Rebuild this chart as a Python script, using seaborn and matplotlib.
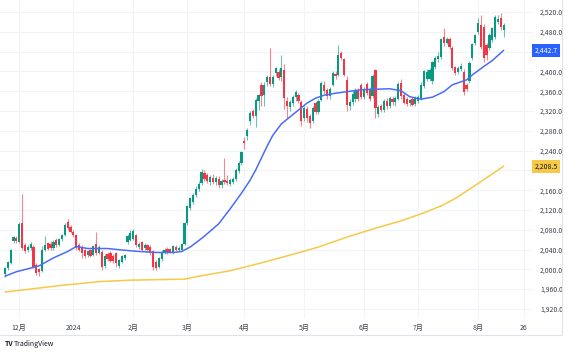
import numpy as np
import pandas as pd
import seaborn as sns
import matplotlib.pyplot as plt
from matplotlib.lines import Line2D

# daily candles (bar index 0 = late Nov 2023)
opens = [1990, 2002, 2013, 2058, 2064, 2056, 2093, 2049, 2038, 2043, 2046, 2009, 2000, 1997, 2040, 2053,
         2052, 2043, 2059, 2050, 2061, 2070, 2096, 2086, 2076, 2069, 2049, 2046, 2039, 2029, 2039, 2029,
         2052, 2033, 2035, 2006, 2031, 2033, 2027, 2032, 2006, 2015, 2022, 2056, 2060, 2062, 2069, 2045,
         2055, 2043, 2049, 2046, 2036, 2015, 2005, 2020, 2033, 2042, 2041, 2034, 2046, 2039, 2040, 2052,
         2093, 2124, 2136, 2150, 2163, 2175, 2195, 2190, 2176, 2184, 2176, 2183, 2170, 2180, 2178, 2172,
         2176, 2182, 2198, 2214, 2259, 2270, 2300, 2320, 2310, 2340, 2373, 2352, 2379, 2389, 2374, 2396,
         2399, 2388, 2403, 2340, 2329, 2336, 2348, 2352, 2339, 2306, 2325, 2310, 2300, 2336, 2318, 2342,
         2372, 2362, 2350, 2373, 2395, 2393, 2437, 2425, 2383, 2330, 2338, 2345, 2362, 2372, 2349, 2375,
         2365, 2350, 2402, 2315, 2330, 2322, 2340, 2330, 2345, 2338, 2345, 2376, 2352, 2345, 2336, 2345,
         2334, 2340, 2345, 2370, 2385, 2385, 2380, 2410, 2425, 2430, 2470, 2458, 2466, 2447, 2409, 2398,
         2405, 2399, 2372, 2380, 2428, 2457, 2480, 2494, 2490, 2453, 2447, 2463, 2469, 2500, 2508, 2484]
highs = [2004, 2016, 2042, 2068, 2067, 2096, 2152, 2053, 2050, 2056, 2049, 2012, 2003, 2048, 2068, 2056,
         2057, 2060, 2063, 2064, 2071, 2094, 2101, 2089, 2079, 2072, 2053, 2049, 2042, 2039, 2042, 2050,
         2075, 2050, 2038, 2030, 2035, 2037, 2031, 2035, 2021, 2029, 2031, 2072, 2079, 2082, 2072, 2055,
         2058, 2053, 2052, 2049, 2039, 2018, 2025, 2038, 2043, 2046, 2044, 2050, 2049, 2047, 2054, 2096,
         2130, 2147, 2155, 2168, 2178, 2203, 2200, 2194, 2190, 2192, 2189, 2188, 2183, 2225, 2190, 2184,
         2186, 2205, 2218, 2240, 2268, 2285, 2320, 2325, 2346, 2355, 2378, 2378, 2392, 2447, 2392, 2410,
         2404, 2433, 2416, 2348, 2342, 2352, 2362, 2356, 2343, 2330, 2330, 2314, 2330, 2340, 2344, 2380,
         2380, 2366, 2368, 2400, 2400, 2453, 2442, 2428, 2390, 2345, 2360, 2366, 2366, 2376, 2368, 2379,
         2369, 2394, 2405, 2332, 2335, 2345, 2346, 2350, 2350, 2350, 2378, 2385, 2356, 2348, 2345, 2349,
         2350, 2352, 2378, 2403, 2405, 2408, 2422, 2432, 2440, 2468, 2488, 2470, 2470, 2452, 2412, 2412,
         2418, 2404, 2376, 2421, 2458, 2476, 2508, 2514, 2495, 2458, 2478, 2490, 2515, 2514, 2518, 2498]
lows = [1985, 1998, 2010, 2054, 2053, 2054, 2040, 2032, 2034, 2040, 2002, 1988, 1987, 1994, 2036, 2038,
        2039, 2040, 2046, 2047, 2058, 2068, 2080, 2073, 2066, 2040, 2036, 2023, 2022, 2025, 2024, 2026,
        2028, 2030, 1999, 2002, 2017, 2014, 2013, 2004, 2003, 2012, 2019, 2052, 2057, 2059, 2046, 2041,
        2037, 2040, 2035, 2029, 1998, 1999, 2002, 2017, 2030, 2031, 2032, 2031, 2037, 2036, 2038, 2050,
        2090, 2120, 2132, 2146, 2158, 2170, 2178, 2174, 2170, 2172, 2170, 2165, 2164, 2172, 2170, 2168,
        2172, 2178, 2194, 2210, 2243, 2262, 2292, 2305, 2288, 2322, 2330, 2330, 2370, 2370, 2368, 2390,
        2382, 2380, 2325, 2306, 2320, 2330, 2340, 2337, 2290, 2300, 2298, 2285, 2296, 2315, 2314, 2340,
        2355, 2345, 2345, 2370, 2385, 2390, 2424, 2390, 2320, 2323, 2332, 2338, 2340, 2345, 2344, 2352,
        2340, 2346, 2306, 2308, 2318, 2318, 2325, 2327, 2333, 2330, 2342, 2345, 2334, 2330, 2330, 2330,
        2330, 2336, 2342, 2366, 2380, 2380, 2375, 2405, 2420, 2426, 2452, 2455, 2445, 2402, 2392, 2394,
        2400, 2352, 2360, 2376, 2424, 2454, 2476, 2445, 2420, 2423, 2443, 2460, 2465, 2495, 2484, 2470]
closes = [2002, 2014, 2039, 2065, 2057, 2091, 2043, 2036, 2046, 2051, 2005, 1992, 1994, 2040, 2049, 2041,
          2043, 2056, 2049, 2061, 2069, 2090, 2084, 2076, 2069, 2043, 2040, 2032, 2026, 2036, 2027, 2047,
          2032, 2046, 2005, 2026, 2020, 2017, 2016, 2013, 2018, 2026, 2029, 2068, 2074, 2078, 2049, 2052,
          2040, 2050, 2038, 2032, 2005, 2002, 2022, 2035, 2040, 2034, 2035, 2047, 2040, 2043, 2052, 2093,
          2127, 2144, 2150, 2163, 2172, 2196, 2182, 2178, 2186, 2176, 2185, 2170, 2178, 2176, 2174, 2181,
          2183, 2200, 2214, 2237, 2255, 2282, 2316, 2309, 2343, 2352, 2350, 2372, 2388, 2374, 2388, 2406,
          2387, 2408, 2346, 2330, 2339, 2348, 2358, 2341, 2300, 2326, 2305, 2296, 2326, 2318, 2340, 2376,
          2360, 2350, 2365, 2397, 2390, 2433, 2427, 2393, 2332, 2338, 2355, 2362, 2345, 2349, 2365, 2356,
          2345, 2390, 2326, 2328, 2322, 2340, 2330, 2346, 2338, 2346, 2374, 2350, 2337, 2334, 2342, 2333,
          2346, 2348, 2373, 2400, 2398, 2402, 2419, 2428, 2432, 2465, 2457, 2466, 2450, 2407, 2397, 2408,
          2412, 2358, 2364, 2418, 2455, 2474, 2498, 2450, 2428, 2433, 2474, 2488, 2510, 2506, 2490, 2494]

# moving averages, read at a few bars
ma_short_idx = [0, 4, 10, 12, 17, 22, 25, 29, 36, 41, 47, 53, 59, 62, 65, 68, 70, 75, 79, 83, 86, 88,
                90, 92, 94, 97, 100, 103, 106, 109, 112, 116, 125, 135, 139, 142, 146, 150, 154, 157,
                162, 164, 168, 171, 175]
ma_short_val = [1986, 1995, 2004, 2007, 2023, 2036, 2046, 2042, 2042, 2039, 2036, 2034, 2034, 2036, 2045,
                2058, 2067, 2092, 2122, 2154, 2180, 2201, 2225, 2249, 2271, 2294, 2308, 2322, 2336, 2346,
                2352, 2356, 2363, 2365, 2361, 2349, 2344, 2348, 2359, 2373, 2383, 2393, 2410, 2422, 2442.7]
ma_long_idx = [0, 9, 19, 33, 44, 63, 68, 79, 90, 104, 110, 121, 130, 139, 146, 153, 158, 163, 168, 175]
ma_long_val = [1954, 1960, 1967, 1975, 1978, 1980, 1986, 1997, 2013, 2035, 2045, 2067, 2083, 2098, 2112,
               2128, 2143, 2162, 2181, 2208.5]

month_ticks = [5, 24, 45, 64, 84, 105, 126, 145, 166, 182]
month_labels = ['12月', '2024', '2月', '3月', '4月', '5月', '6月', '7月', '8月', '26']
price_ticks = list(range(1920, 2521, 40))

df = pd.DataFrame({'o': opens, 'h': highs, 'l': lows, 'c': closes})
df['i'] = np.arange(len(df))
up = df['c'] >= df['o']
UP, DOWN = '#089981', '#f23645'
colors = np.where(up, UP, DOWN)

sns.set_style('white')
plt.rcParams['font.family'] = ['Noto Sans CJK JP', 'DejaVu Sans']
TXT = '#3b3f4a'

W, H = 573, 352
fig = plt.figure(figsize=(W / 100, H / 100), dpi=100)
ax = fig.add_axes([0, 1 - 318 / H, 533 / W, 318 / H])

# candles
ax.vlines(df['i'], df['l'], df['h'], colors=colors, linewidth=0.8, alpha=0.6, zorder=2)
ax.bar(df['i'], (df['c'] - df['o']).abs().clip(lower=1.5), bottom=df[['o', 'c']].min(axis=1),
       width=0.78, color=colors, linewidth=0, zorder=3)

ma_s = pd.DataFrame({'i': ma_short_idx, 'v': ma_short_val})
ma_l = pd.DataFrame({'i': ma_long_idx, 'v': ma_long_val})
sns.lineplot(data=ma_s, x='i', y='v', ax=ax, color='#4a6cf7', linewidth=1.1, zorder=4)
sns.lineplot(data=ma_l, x='i', y='v', ax=ax, color='#f7c948', linewidth=1.1, zorder=4)

ax.set_xlim(-1.75, 185.3)
ax.set_ylim(1901.5, 2544.5)
ax.set_xlabel('')
ax.set_ylabel('')
for s in ax.spines.values():
    s.set_visible(False)

ax.set_xticks(month_ticks)
ax.set_xticklabels(month_labels)
ax.set_yticks(price_ticks)
# 2,440 and 2,200 sit under the last-value tags, so their labels are left blank
ax.set_yticklabels(['' if p in (2440, 2200) else f'{p:,.1f}' for p in price_ticks])
ax.yaxis.tick_right()
ax.tick_params(axis='y', length=0, pad=5, labelsize=5, labelcolor=TXT)
ax.tick_params(axis='x', length=0, pad=4, labelsize=5, labelcolor=TXT)
ax.grid(True, color='#f0f3fa', linewidth=0.8)
ax.set_axisbelow(True)

# last value tags on the price scale
ax.text(1.003, ma_short_val[-1], f'{ma_short_val[-1]:,.1f}', transform=ax.get_yaxis_transform(),
        fontsize=5, color='white', va='center', ha='left', zorder=10, clip_on=False,
        bbox=dict(boxstyle='square,pad=0.35', fc='#2962ff', ec='none'))
ax.text(1.003, ma_long_val[-1], f'{ma_long_val[-1]:,.1f}', transform=ax.get_yaxis_transform(),
        fontsize=5, color='#131722', va='center', ha='left', zorder=10, clip_on=False,
        bbox=dict(boxstyle='square,pad=0.35', fc='#f7c948', ec='none'))

# frame lines around the chart
fig.add_artist(Line2D([562 / W, 562 / W], [1 - 335 / H, 1], color='#e0e3eb', linewidth=0.8))
fig.add_artist(Line2D([0, 562 / W], [1 - 335 / H, 1 - 335 / H], color='#e0e3eb', linewidth=0.8))

fig.text(5 / W, 1 - 344 / H, 'TV', fontsize=5, fontweight='bold', color='#131722', va='center')
fig.text(14 / W, 1 - 344 / H, 'TradingView', fontsize=5, color='#131722', va='center')

plt.savefig('out.png', dpi=100)
